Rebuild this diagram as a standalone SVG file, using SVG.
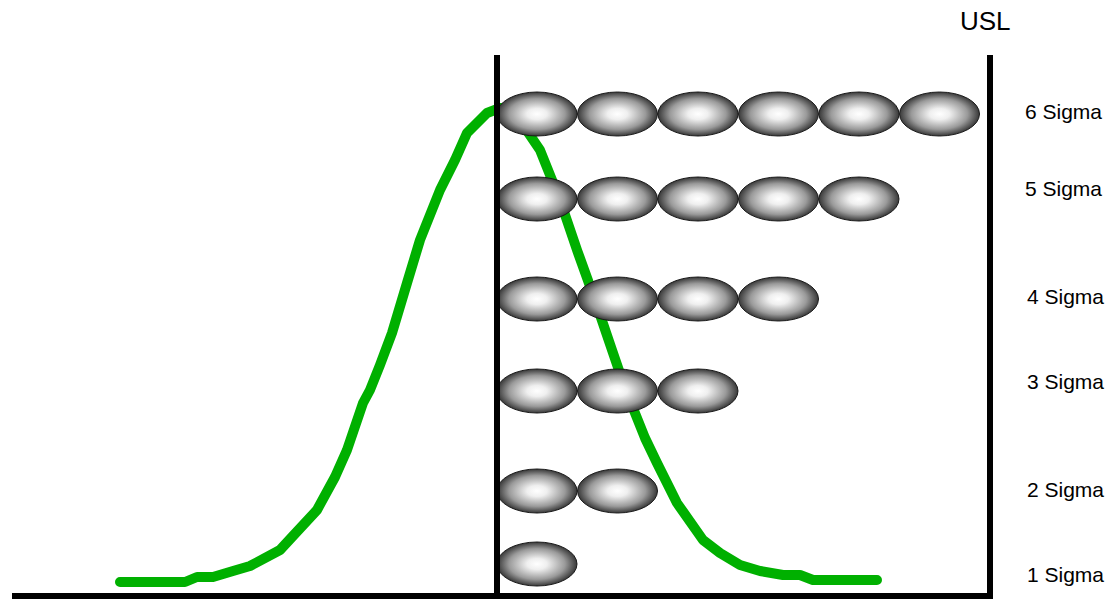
<svg xmlns="http://www.w3.org/2000/svg" width="1111" height="599" viewBox="0 0 1111 599">
<style>
.lbl{font-family:"Liberation Sans",Arial,sans-serif;font-size:21px;fill:#000}
.usl{font-family:"Liberation Sans",Arial,sans-serif;font-size:26px;fill:#000}
.ball{fill:url(#g);stroke:#1a1a1a;stroke-width:1}
.axis{stroke:#000;stroke-width:6;fill:none}
.curve{fill:none;stroke:#00b000;stroke-width:10;stroke-linecap:round;stroke-linejoin:round}
</style>
<defs>
<radialGradient id="g" cx="0.5" cy="0.5" r="0.5">
<stop offset="0" stop-color="#ffffff"/>
<stop offset="0.25" stop-color="#efefef"/>
<stop offset="0.7" stop-color="#9a9a9a"/>
<stop offset="1" stop-color="#383838"/>
</radialGradient>
<ellipse id="b" cx="0" cy="0" rx="40" ry="22" class="ball"/>
</defs>
<g id="connectors">
<polyline id="curve" class="curve" points="120,582 185,582 197,577 213,577 233,571 250,566 280,550 292,537 317,510 335,477 347,450 363,403 370,390 380,365 392,333 407,283 420,240 440,190 455,160 467,133 487,113 500,108 512,110 523,125 540,150 560,200 577,250 595,300 612,350 625,388 635,413 645,438 657,463 677,503 703,540 720,553 740,565 760,571 783,575 800,575 813,580 877,580"/>
</g>
<g id="row6">
<use href="#b" x="537" y="114"/><use href="#b" x="617.5" y="114"/><use href="#b" x="698" y="114"/><use href="#b" x="778.5" y="114"/><use href="#b" x="859" y="114"/><use href="#b" x="939.5" y="114"/>
</g>
<g id="row5">
<use href="#b" x="537" y="199"/><use href="#b" x="617.5" y="199"/><use href="#b" x="698" y="199"/><use href="#b" x="778.5" y="199"/><use href="#b" x="859" y="199"/>
</g>
<g id="row4">
<use href="#b" x="537" y="299"/><use href="#b" x="617.5" y="299"/><use href="#b" x="698" y="299"/><use href="#b" x="778.5" y="299"/>
</g>
<g id="row3">
<use href="#b" x="537" y="391"/><use href="#b" x="617.5" y="391"/><use href="#b" x="698" y="391"/>
</g>
<g id="row2">
<use href="#b" x="537" y="491"/><use href="#b" x="617.5" y="491"/>
</g>
<g id="row1">
<use href="#b" x="537" y="564"/>
</g>
<g id="axes">
<line class="axis" x1="12" y1="596" x2="993" y2="596"/>
<line class="axis" x1="497" y1="55" x2="497" y2="599"/>
<line class="axis" x1="990" y1="55" x2="990" y2="599"/>
</g>
<g id="labels">
<text class="usl" x="960" y="30">USL</text>
<text class="lbl" x="1025" y="119">6 Sigma</text>
<text class="lbl" x="1025" y="196">5 Sigma</text>
<text class="lbl" x="1027" y="304">4 Sigma</text>
<text class="lbl" x="1027" y="389">3 Sigma</text>
<text class="lbl" x="1027" y="497">2 Sigma</text>
<text class="lbl" x="1027" y="582">1 Sigma</text>
</g>
</svg>
